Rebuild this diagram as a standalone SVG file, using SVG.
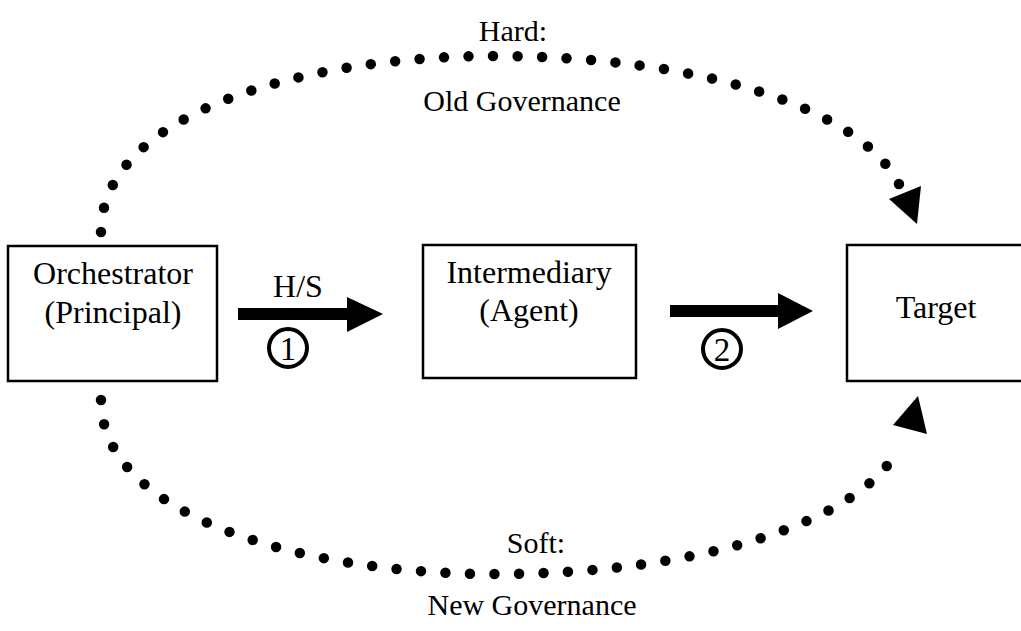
<svg xmlns="http://www.w3.org/2000/svg" width="1021" height="631" viewBox="0 0 1021 631">
<style>
  .box { fill: #fff; stroke: #000; stroke-width: 2.5; }
  .t { font-family: "Liberation Serif", "Times New Roman", serif; font-size: 32px; fill: #000; text-anchor: middle; }
  .lbl { font-family: "Liberation Serif", "Times New Roman", serif; font-size: 30px; fill: #000; text-anchor: middle; }
  .num { font-family: "Liberation Serif", "Times New Roman", serif; font-size: 33px; fill: #000; text-anchor: middle; }
  .dots { fill: none; stroke: #000; stroke-width: 10.5; stroke-linecap: round; stroke-dasharray: 0 24.5; }
  .ring { fill: #fff; stroke: #000; stroke-width: 4; }
</style>
<rect width="1021" height="631" fill="#fff"/>
<g id="connectors">
  <path class="dots" d="M101,232 C101,115 300,56 495,56 C700,56 860,108 899,184"/>
  <polygon points="889,199 921,186 917,224" fill="#000"/>
  <path class="dots" d="M101,400 C101,515 300,574 495,574 C700,574 860,522 899,448"/>
  <polygon points="893,425 918,396 927,434" fill="#000"/>
  <polygon points="238,308 347,308 347,297 383,314 347,332 347,320 238,320" fill="#000"/>
  <polygon points="670,305 778,305 778,293 813,311 778,329 778,317 670,317" fill="#000"/>
  <circle class="ring" cx="288" cy="348" r="19"/>
  <text class="num" x="288" y="359.5">1</text>
  <circle class="ring" cx="722" cy="349" r="19"/>
  <text class="num" x="722" y="360.5">2</text>
  <text class="t" x="298" y="297">H/S</text>
  <text class="lbl" x="513" y="41">Hard:</text>
  <text class="lbl" x="522" y="111">Old Governance</text>
  <text class="lbl" x="536" y="553">Soft:</text>
  <text class="lbl" x="532" y="615">New Governance</text>
</g>
<g id="orchestrator">
  <rect class="box" x="8" y="246" width="209" height="135"/>
  <text class="t" x="113" y="284">Orchestrator</text>
  <text class="t" x="113" y="323">(Principal)</text>
</g>
<g id="intermediary">
  <rect class="box" x="423" y="245" width="213" height="133"/>
  <text class="t" x="529" y="283">Intermediary</text>
  <text class="t" x="529" y="321">(Agent)</text>
</g>
<g id="target">
  <rect class="box" x="847" y="245" width="190" height="136"/>
  <text class="t" x="936" y="318">Target</text>
</g>
</svg>
